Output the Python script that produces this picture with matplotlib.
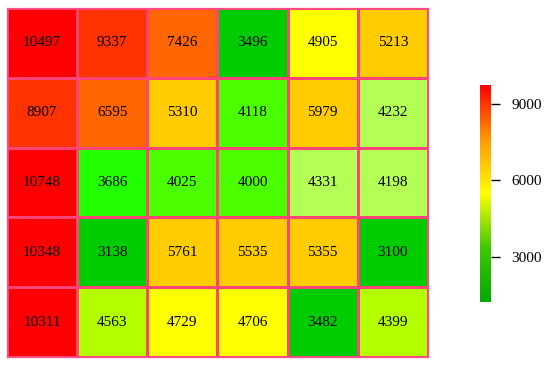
import numpy as np
import matplotlib
matplotlib.use("Agg")
import matplotlib.pyplot as plt
from matplotlib.colors import ListedColormap, BoundaryNorm, LinearSegmentedColormap, Normalize
from matplotlib.cm import ScalarMappable

plt.rcParams['font.family'] = ['Liberation Serif', 'DejaVu Serif']

# values, top row first
row1 = [10497, 9337, 7426, 3496, 4905, 5213]
row2 = [8907, 6595, 5310, 4118, 5979, 4232]
row3 = [10748, 3686, 4025, 4000, 4331, 4198]
row4 = [10348, 3138, 5761, 5535, 5355, 3100]
row5 = [10311, 4563, 4729, 4706, 3482, 4399]
values = np.array([row1, row2, row3, row4, row5])

# piecewise colour classes for the cells
bounds = [3000, 3600, 3900, 4150, 4350, 4650, 5000, 6200, 8000, 9500, 11000]
class_colors = ['#00cc00', '#22ff00', '#4cff00', '#b3ff55', '#b3ff00',
                '#ffff00', '#ffcc00', '#ff6600', '#ff3300', '#ff0000']
cell_cmap = ListedColormap(class_colors)
cell_norm = BoundaryNorm(bounds, cell_cmap.N)

cbar_ticks = [3000, 6000, 9000]

fig = plt.figure(figsize=(5.5, 3.66), dpi=100)
ax = fig.add_axes([0.0127, 0.0246, 0.7655, 0.9536])
ax.pcolormesh(values, cmap=cell_cmap, norm=cell_norm,
              edgecolors='#ff4477', linewidth=0.9)
ax.set_xlim(0, values.shape[1])
ax.set_ylim(values.shape[0], 0)
ax.set_xticks([])
ax.set_yticks([])
for s in ax.spines.values():
    s.set_color('#ff4f8b')
    s.set_linewidth(0.9)

for i in range(values.shape[0]):
    for j in range(values.shape[1]):
        ax.text(j + 0.5, i + 0.5, str(values[i, j]), ha='center', va='center',
                fontsize=11, color='black')

# continuous legend bar
grad = LinearSegmentedColormap.from_list(
    'gyr', [(0.0, '#00aa00'), (0.25, '#40c800'), (0.5, '#ffff00'),
            (0.75, '#ff9900'), (1.0, '#ff0000')])
sm = ScalarMappable(norm=Normalize(vmin=1235, vmax=9745), cmap=grad)
cax = fig.add_axes([0.8727, 0.1749, 0.02, 0.593])
cb = fig.colorbar(sm, cax=cax, ticks=cbar_ticks)
cb.outline.set_visible(False)
cb.ax.tick_params(length=6.5, width=1, pad=8, labelsize=11)

fig.savefig("out.png", dpi=100)
